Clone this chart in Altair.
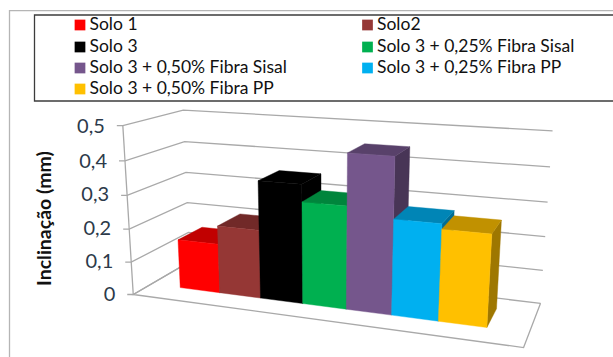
import altair as alt
import numpy as np
import pandas as pd

# Chart content
series = ["Solo 1", "Solo2", "Solo 3", "Solo 3 + 0,25% Fibra Sisal", "Solo 3 + 0,50% Fibra Sisal",
          "Solo 3 + 0,25% Fibra PP", "Solo 3 + 0,50% Fibra PP"]
values = [0.15, 0.205, 0.35, 0.30, 0.447, 0.275, 0.26]
colors = ["#FF0000", "#953735", "#000000", "#00B050", "#75568C", "#00B0F0", "#FFC000"]
tick_values = [0.0, 0.1, 0.2, 0.3, 0.4, 0.5]
tick_labels = ["0", "0,1", "0,2", "0,3", "0,4", "0,5"]
axis_title = "Inclinação (mm)"

W, H = 613, 357
FONT = "Lato"

# Camera calibration: box corners (position, value, depth) and where they appear on the canvas
BOX = [(0, 0, 0), (0, .5, 0), (1, 0, 0), (1, .5, 0), (0, 0, 1), (0, .5, 1), (1, 0, 1), (1, .5, 1)]
VIEW = [(133, 295), (123, 126), (523, 347), (537, 152), (190, 261), (183, 110), (541, 304), (552, 131)]

rows, rhs = [], []
for (a, b, c), (u, v) in zip(BOX, VIEW):
    rows.append([a, b, c, 1, 0, 0, 0, 0, -u * a, -u * b, -u * c]); rhs.append(u)
    rows.append([0, 0, 0, 0, a, b, c, 1, -v * a, -v * b, -v * c]); rhs.append(v)
CAM = np.append(np.linalg.lstsq(np.array(rows, float), np.array(rhs, float), rcond=None)[0], 1).reshape(3, 4)


def project(a, b, c):
    p = CAM @ np.array([a, b, c, 1.0])
    return float(p[0] / p[2]), float(p[1] / p[2])


# Bars sit side by side in a band of the floor
X0, X1 = 0.087, 0.902
Z0, Z1 = 0.30, 0.74


def shade(hex_color, k):
    r, g, b = (int(hex_color[i:i + 2], 16) for i in (1, 3, 5))
    return "#%02x%02x%02x" % (int(r * k), int(g * k), int(b * k))


x_scale = alt.Scale(domain=[0, W], range=[0, W], nice=False, zero=False)
y_scale = alt.Scale(domain=[0, H], range=[0, H], nice=False, zero=False)
X = lambda f="x": alt.X(f, type="quantitative", scale=x_scale, axis=None)
Y = lambda f="y": alt.Y(f, type="quantitative", scale=y_scale, axis=None)

layers = []


def polygon(points, fill):
    df = pd.DataFrame(points, columns=["x", "y"]).assign(o=range(len(points)))
    layers.append(alt.Chart(df).mark_line(interpolate="linear-closed", fill=fill, stroke=fill, strokeWidth=0.4)
                  .encode(x=X(), y=Y(), order="o:Q"))


def polyline(points, color, width=1.3):
    df = pd.DataFrame(points, columns=["x", "y"]).assign(o=range(len(points)))
    layers.append(alt.Chart(df).mark_line(color=color, strokeWidth=width).encode(x=X(), y=Y(), order="o:Q"))


# Outer chart frame and legend box
GRID = "#a9a9a9"
layers.append(alt.Chart(pd.DataFrame({"x": [9.5], "x2": [W + 5], "y": [10.7], "y2": [H + 5]}))
              .mark_rect(fill="white", stroke="#b5b5b5", strokeWidth=1.3)
              .encode(x=X(), x2="x2", y=Y(), y2="y2"))
layers.append(alt.Chart(pd.DataFrame({"x": [34.5], "x2": [W + 4], "y": [15], "y2": [101]}))
              .mark_rect(fill="white", stroke="#3c3c3c", strokeWidth=1.3)
              .encode(x=X(), x2="x2", y=Y(), y2="y2"))

# Gridlines run across the left wall and the back wall
for v in tick_values:
    a = project(0, v, 0)
    b = project(0, v, 1)
    c = project(1, v, 1)
    polyline([(a[0] - 6, a[1]), a, b, c], GRID)

# Floor outline and left wall edge
polyline([project(0, 0, 1), project(0, 0, 0), project(1, 0, 0), project(1, 0, 1)], GRID)
polyline([project(0, 0, 0), project(0, 0.5, 0)], GRID)

# Bars, painted from left to right so each one covers its neighbour's side
n = len(values)
for i, (val, col) in enumerate(zip(values, colors)):
    a0 = X0 + (X1 - X0) * i / n
    a1 = X0 + (X1 - X0) * (i + 1) / n
    polygon([project(a1, 0, Z0), project(a1, val, Z0), project(a1, val, Z1), project(a1, 0, Z1)], shade(col, 0.62))
    polygon([project(a0, val, Z0), project(a1, val, Z0), project(a1, val, Z1), project(a0, val, Z1)], shade(col, 0.76))
    polygon([project(a0, 0, Z0), project(a1, 0, Z0), project(a1, val, Z0), project(a0, val, Z0)], col)

# Value labels along the front edge of the left wall
tick_df = pd.DataFrame([(project(0, v, 0)[0] - 18, project(0, v, 0)[1] + (v > 0.3), t)
                        for v, t in zip(tick_values, tick_labels)], columns=["x", "y", "t"])
layers.append(alt.Chart(tick_df).mark_text(align="right", baseline="middle", font=FONT, fontSize=20, color="#2c3a4a")
              .encode(x=X(), y=Y(), text="t:N"))

# Axis title
layers.append(alt.Chart(pd.DataFrame({"x": [45], "y": [218.5], "t": [axis_title]}))
              .mark_text(angle=270, align="center", baseline="middle", font=FONT, fontSize=19.5, fontWeight="bold", color="#111111")
              .encode(x=X(), y=Y(), text="t:N"))

# Two-column legend
legend_cols = [74.5, 362]
legend_rows = [25, 47, 68, 89]
items = [(legend_cols[i % 2], legend_rows[i // 2], s, c) for i, (s, c) in enumerate(zip(series, colors))]
legend_df = pd.DataFrame(items, columns=["x", "y", "s", "c"])
layers.append(alt.Chart(legend_df).mark_square(size=115, opacity=1)
              .encode(x=alt.X("xm:Q", scale=x_scale, axis=None), y=Y(),
                      fill=alt.Fill("c:N", scale=None))
              .transform_calculate(xm="datum.x + 5.5"))
layers.append(alt.Chart(legend_df).mark_text(align="left", baseline="middle", font=FONT, fontSize=17.5, color="#111111")
              .encode(x=alt.X("xt:Q", scale=x_scale, axis=None), y=Y(), text="s:N")
              .transform_calculate(xt="datum.x + 15"))

chart = alt.layer(*layers).properties(
    width=W, height=H, padding=0, autosize=alt.AutoSizeParams(type="none"), background="white"
).configure_view(stroke=None)

chart.save("out.html", embed_options={"renderer": "svg", "actions": False})
